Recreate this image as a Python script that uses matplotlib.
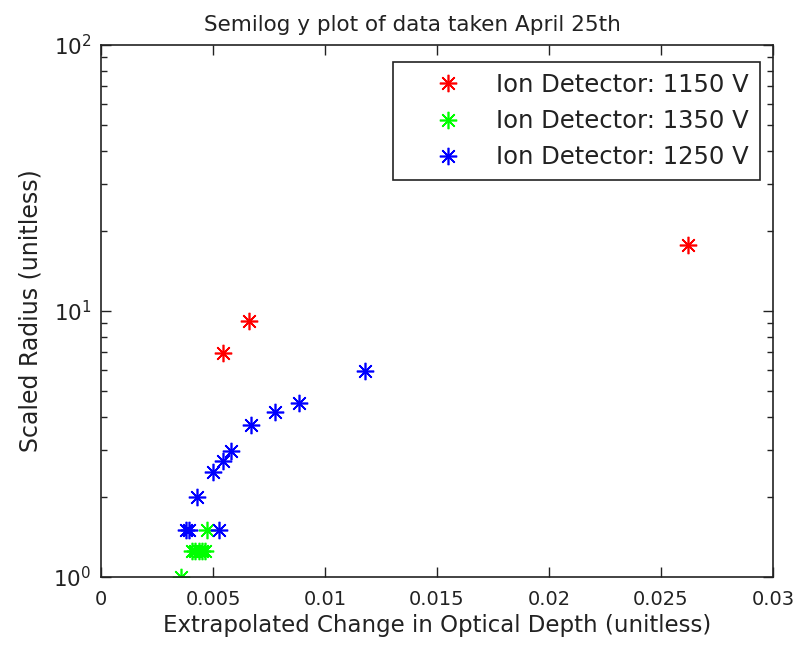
import matplotlib
matplotlib.use("Agg")
import matplotlib.pyplot as plt
from matplotlib.ticker import LogLocator, NullFormatter

# change in optical depth vs scaled radius, one set per detector voltage
x_1150 = [0.00543, 0.00659, 0.0262]
y_1150 = [6.97, 9.2, 17.7]

x_1350 = [0.00356, 0.00405, 0.00420, 0.00438, 0.00452, 0.00466, 0.00472]
y_1350 = [1.0, 1.25, 1.25, 1.25, 1.25, 1.25, 1.5]

x_1250 = [0.00380, 0.00393, 0.00527, 0.00427, 0.00499, 0.00546, 0.00579,
          0.00668, 0.00775, 0.00884, 0.01179]
y_1250 = [1.5, 1.5, 1.5, 2.0, 2.49, 2.73, 2.98, 3.72, 4.18, 4.5, 5.95]

labels = ["Ion Detector: 1150 V", "Ion Detector: 1350 V", "Ion Detector: 1250 V"]

plt.rcParams['font.family'] = ['DejaVu Sans']
fig = plt.figure(figsize=(7.99, 6.46), dpi=100)
ax = fig.add_axes([0.1264, 0.1068, 0.8411, 0.8235])

star = (8, 2, 0)
kw = dict(linestyle='none', marker=star, markersize=12.5, markeredgewidth=1.2)
ax.semilogy(x_1150, y_1150, color='red', label=labels[0], **kw)
ax.semilogy(x_1350, y_1350, color='#00ff00', label=labels[1], **kw)
ax.semilogy(x_1250, y_1250, color='blue', label=labels[2], **kw)

ax.set_xlim(0, 0.03)
ax.set_ylim(1, 100)
ax.set_xticks([0, 0.005, 0.01, 0.015, 0.02, 0.025, 0.03])
ax.set_xticklabels(['0', '0.005', '0.01', '0.015', '0.02', '0.025', '0.03'])
ax.yaxis.set_minor_locator(LogLocator(base=10, subs=range(2, 10)))
ax.yaxis.set_minor_formatter(NullFormatter())

ax.tick_params(which='both', direction='in', top=True, right=True,
               labelsize=14, colors='#222222')
ax.tick_params(which='major', length=7, width=1)
ax.tick_params(which='minor', length=4, width=1)
ax.tick_params(axis='x', pad=9)
ax.tick_params(axis='y', pad=7, labelsize=15.5)
for s in ax.spines.values():
    s.set_linewidth(1.2)
    s.set_color('#222222')

ax.set_title("Semilog y plot of data taken April 25th", fontsize=15.5, pad=10,
             color='#222222', x=0.464)
ax.set_xlabel("Extrapolated Change in Optical Depth (unitless)", fontsize=16.5,
              color='#222222', labelpad=4)
ax.set_ylabel("Scaled Radius (unitless)", fontsize=17, color='#222222',
              labelpad=8)

leg = ax.legend(loc='upper right', bbox_to_anchor=(0.9807, 0.968), fontsize=17.5,
                fancybox=False, framealpha=1, edgecolor='#222222',
                borderpad=0.45, labelspacing=0.5, handletextpad=0.12,
                handlelength=3.7, markerscale=1.0, borderaxespad=0)
leg.get_frame().set_linewidth(1.2)
for t in leg.get_texts():
    t.set_color('#222222')

fig.savefig("out.png", dpi=100)
